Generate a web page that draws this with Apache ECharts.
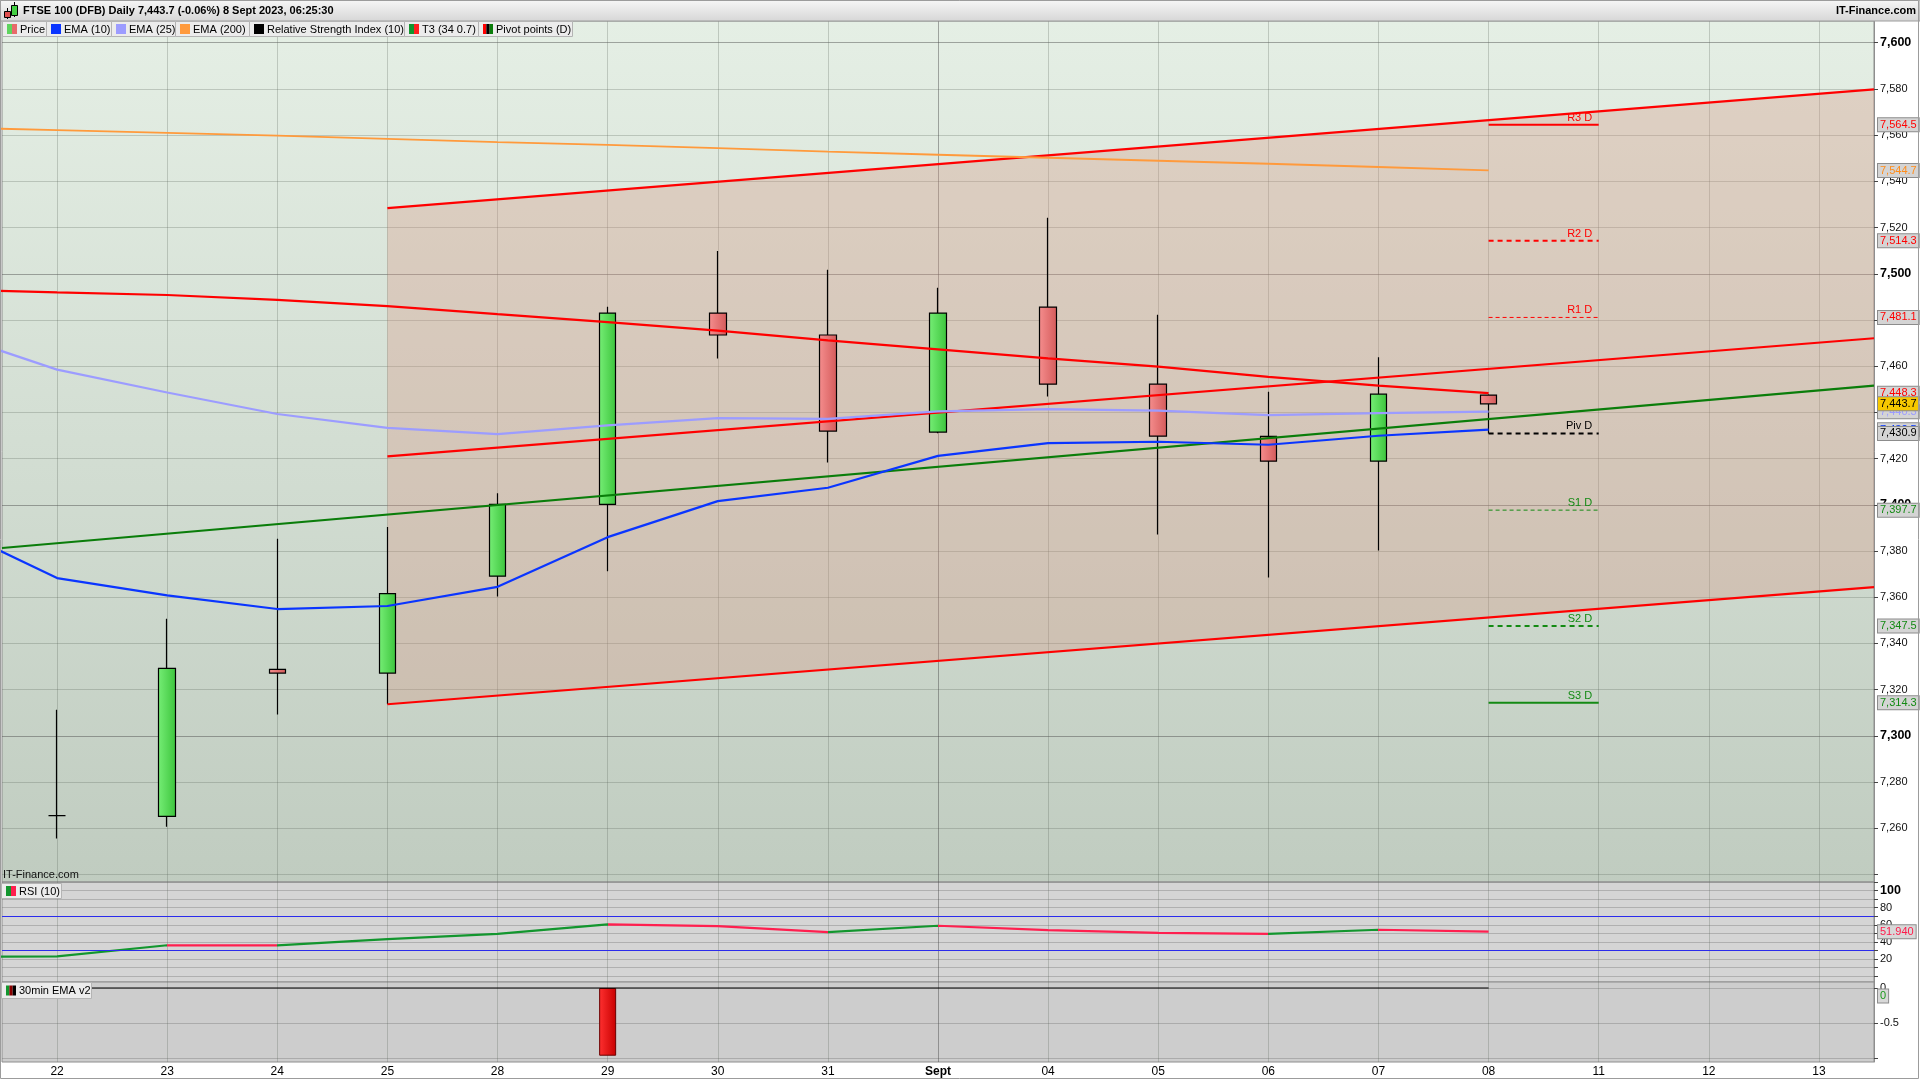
<!DOCTYPE html>
<html><head><meta charset="utf-8">
<script src="https://cdn.jsdelivr.net/npm/echarts@6/dist/echarts.min.js"></script>
<style>html,body{margin:0;padding:0;background:#fff}#c{width:1920px;height:1080px}</style>
</head><body><div id="c"></div>
<script>
// ---------- DATA ----------
const dayLabels = ['22','23','24','25','28','29','30','31','Sept','04','05','06','07','08','11','12','13'];
const openP  = [7265.5,7265.2,7328.8,7327.2,7369.1,7400.2,7483.0,7473.5,7431.5,7485.6,7452.2,7429.6,7418.9,7447.5];
const closeP = [7265.5,7329.2,7327.2,7361.6,7400.2,7483.0,7473.5,7431.9,7483.0,7452.2,7429.7,7418.9,7447.9,7443.7];
const lowP   = [7255.6,7260.7,7309.2,7313.7,7360.3,7371.2,7463.3,7418.3,7431.0,7446.9,7387.1,7368.5,7380.2,7430.9];
const highP  = [7311.3,7350.7,7385.3,7390.4,7405.0,7485.7,7509.9,7501.7,7493.9,7524.2,7482.3,7448.9,7463.9,7447.8];
// indicator arrays: first value = session before the first visible day (off-chart, clipped)
const ema10  = [7391.1,7368.3,7360.8,7354.9,7356.2,7364.5,7386.0,7401.6,7407.4,7421.2,7426.7,7427.3,7426.0,7429.9,7432.5];
const ema25  = [7474.5,7458.5,7448.6,7439.3,7433.3,7430.6,7434.4,7437.5,7437.2,7440.4,7441.4,7440.8,7438.8,7439.7,7440.3];
const ema200 = [7563.3,7562.2,7561.0,7559.8,7558.4,7557.0,7555.8,7554.4,7552.9,7551.5,7550.2,7548.9,7547.6,7546.2,7544.7];
const t3     = [7493.3,7491.9,7490.8,7488.7,7486.0,7482.5,7479.1,7475.4,7471.2,7467.3,7463.4,7459.8,7455.4,7451.6,7448.3];
const rsi10  = [22.6,22.9,36.0,35.8,43.1,49.4,60.5,58.5,51.4,58.9,53.8,50.6,49.4,54.2,51.94];
const rsiBands = [70, 30];
const ema30Bars = [0,0,0,0,0,-0.97,0,0,0,0,0,0,0,0];
const ema30Line = [0,0,0,0,0,0,0,0,0,0,0,0,0,0,0];
// drawn lines: value at start / value at right edge
const channelStartDay = '25';
const chanTop = [7528.4, 7579.8];
const chanMid = [7421.0, 7472.1];
const chanLow = [7313.7, 7364.4];
const trendGreen = [7381.3, 7451.6];
// daily pivots (drawn on last day)
const pivotNames  = ['R3 D','R2 D','R1 D','Piv D','S1 D','S2 D','S3 D'];
const pivotValues = [7564.5,7514.3,7481.1,7430.9,7397.7,7347.5,7314.3];
const titleText = 'FTSE 100 (DFB) Daily 7,443.7 (-0.06%) 8 Sept 2023, 06:25:30';

// ---------- LAYOUT / STYLE ----------
const FONT = '"Liberation Sans", Arial, Helvetica, sans-serif';
const X_MIN = -0.5, X_MAX = dayLabels.length - 0.5;
const Y_MIN = 7236.76, Y_MAX = 7609.39;
const G = echarts.graphic;
const lastDayIdx = closeP.length - 1;
const startIdx = dayLabels.indexOf(channelStartDay);
const fmt1 = v => v.toLocaleString('en-US',{minimumFractionDigits:1,maximumFractionDigits:1});
const ind = arr => arr.map((v,i)=>[i-1, v]);
const lastOf = a => a[a.length-1];

const greenFill = new G.LinearGradient(0,0,1,0,[{offset:0,color:'#76ee76'},{offset:1,color:'#3cc43c'}]);
const redFill = new G.LinearGradient(0,0,1,0,[{offset:0,color:'#f58e8e'},{offset:1,color:'#d45a5a'}]);

function tag(v, text, color, bg, extraLabel){
  return {yAxis: v, lineStyle:{width:0, color:'rgba(0,0,0,0)'},
    label:Object.assign({show:true, position:'end', distance:4, formatter:text, color:color,
      backgroundColor:bg||'#d4d4d4', borderColor:'#8c8c8c', borderWidth:1,
      padding:[1,2,0,2], lineHeight:12, fontSize:11, fontFamily:FONT}, extraLabel||{})};
}

const hiddenVal = (grid) => ({type:'value', gridIndex:grid, min:X_MIN, max:X_MAX,
  minInterval:1, maxInterval:1,
  axisLine:{show:false, onZero:false}, axisTick:{show:false}, axisLabel:{show:false},
  splitLine:{show:true, showMinLine:false, showMaxLine:false,
    lineStyle:{color:dayLabels.map(d=> d==='Sept' ? 'rgba(70,70,70,0.45)' : 'rgba(90,100,90,0.28)'), width:1}}});

const lineS = (name, data, color, width, extra) => Object.assign({
  name, type:'line', xAxisIndex:1, yAxisIndex:0, data, showSymbol:false, symbol:'none',
  lineStyle:{color, width}, itemStyle:{color}, silent:true, z:3}, extra||{});

// ---------- SERIES ----------
const series = [];
// channel shading (polygon through the axis scales)
series.push({name:'channel', type:'custom', xAxisIndex:1, yAxisIndex:0, z:1, silent:true, clip:true,
  data:[[startIdx, chanLow[0], chanTop[0], X_MAX, chanLow[1], chanTop[1]]],
  encode:{x:[0,3], y:[1,2,4,5]},
  renderItem:(params, api)=>{
    const a = api.coord([api.value(0), api.value(2)]);
    const b = api.coord([api.value(3), api.value(5)]);
    const c = api.coord([api.value(3), api.value(4)]);
    const d = api.coord([api.value(0), api.value(1)]);
    return {type:'polygon', shape:{points:[a,b,c,d]}, style:{fill:'rgba(214,150,132,0.32)'}};
  }});
series.push({name:'Price', type:'candlestick', xAxisIndex:0, yAxisIndex:0, barWidth:17, z:2,
  data: openP.map((o,i)=>[o, closeP[i], lowP[i], highP[i]]),
  itemStyle:{color:greenFill, color0:redFill, borderColor:'#000', borderColor0:'#000', borderColorDoji:'#000', borderWidth:1.2}});
series.push(lineS('chTop', [[startIdx, chanTop[0]],[X_MAX, chanTop[1]]], '#ff0000', 2.2));
series.push(lineS('chMid', [[startIdx, chanMid[0]],[X_MAX, chanMid[1]]], '#ff0000', 2.2));
series.push(lineS('chLow', [[startIdx, chanLow[0]],[X_MAX, chanLow[1]]], '#ff0000', 2.2));
series.push(lineS('trend', [[X_MIN, trendGreen[0]],[X_MAX, trendGreen[1]]], '#0a7d0a', 2.2));
series.push(lineS('EMA (200)', ind(ema200), '#ff9a3c', 1.8, {markLine:{silent:true, symbol:'none', animation:false, data:[
  tag(lastOf(ema200), fmt1(lastOf(ema200)), '#ff8c1a'),
  tag(pivotValues[0], fmt1(pivotValues[0]), '#ff0000'),
  tag(pivotValues[1], fmt1(pivotValues[1]), '#ff0000'),
  tag(pivotValues[2], fmt1(pivotValues[2]), '#ff0000'),
  tag(lastOf(t3), fmt1(lastOf(t3)), '#ff0000'),
  tag(lastOf(ema25), fmt1(lastOf(ema25)), '#9c9cff'),
  tag(lastOf(ema10), fmt1(lastOf(ema10)), '#0033ff'),
  tag(pivotValues[4], fmt1(pivotValues[4]), '#138a13'),
  tag(pivotValues[5], fmt1(pivotValues[5]), '#138a13'),
  tag(pivotValues[6], fmt1(pivotValues[6]), '#138a13'),
  tag(pivotValues[3], fmt1(pivotValues[3]), '#000000'),
  tag(closeP[lastDayIdx], fmt1(closeP[lastDayIdx]), '#000000', '#f6c800')
]}}));
series.push(lineS('EMA (25)', ind(ema25), '#9c9cff', 2.2));
series.push(lineS('EMA (10)', ind(ema10), '#0a35ff', 2.2));
series.push(lineS('T3', ind(t3), '#ff0000', 2.2));

const pivotStyle = [
  {c:'#ff0000', w:2, t:'solid'}, {c:'#ff0000', w:2, t:[5,4]}, {c:'#ff0000', w:1, t:[4,3]},
  {c:'#000000', w:2, t:[5,4]}, {c:'#138a13', w:1, t:[4,3]}, {c:'#138a13', w:2, t:[5,4]}, {c:'#138a13', w:2, t:'solid'}];
pivotValues.forEach((v,k)=>{
  const st = pivotStyle[k];
  series.push({name:'piv'+k, type:'line', xAxisIndex:1, yAxisIndex:0, silent:true, z:3,
    symbol:'circle', symbolSize:1, showSymbol:true, itemStyle:{color:'rgba(0,0,0,0)'},
    lineStyle:{color:st.c, width:st.w, type:st.t},
    data:[[lastDayIdx, v], {value:[lastDayIdx+1, v], label:{show:true, position:'left', distance:6, offset:[0,-7],
      formatter:pivotNames[k], color:st.c, fontSize:11, fontFamily:FONT}}]});
});

const rsiIdx = series.length;
series.push({name:'RSI', type:'line', xAxisIndex:2, yAxisIndex:1, data:ind(rsi10), showSymbol:false, symbol:'none',
  lineStyle:{width:2.2}, silent:true, z:3,
  markLine:{silent:true, symbol:'none', animation:false, data:[
    {yAxis:rsiBands[0], lineStyle:{color:'#2b2bec', width:1, type:'solid'}, label:{show:false}},
    {yAxis:rsiBands[1], lineStyle:{color:'#2b2bec', width:1, type:'solid'}, label:{show:false}},
    tag(lastOf(rsi10), lastOf(rsi10).toFixed(3), '#ff1a4a', '#d8d8d8')]}});
series.push({name:'30min EMA v2', type:'bar', xAxisIndex:3, yAxisIndex:2, barWidth:17, silent:true,
  data: ema30Bars.map(v=> v===0 ? null : v),
  itemStyle:{color:new G.LinearGradient(0,0,1,0,[{offset:0,color:'#ff3030'},{offset:1,color:'#c80000'}]), borderColor:'#6a0000', borderWidth:1}});
series.push({name:'ema30line', type:'line', xAxisIndex:4, yAxisIndex:2, data:ind(ema30Line), showSymbol:false, symbol:'none',
  lineStyle:{color:'#000', width:1.2}, silent:true, z:3,
  markLine:{silent:true, symbol:'none', animation:false, data:[tag(0, '0', '#1a9a1a', '#d8d8d8', {offset:[0,8]})]}});

// rsi colouring: rising green, falling red
const rsiPieces = [];
for (let i=0;i<rsi10.length-1;i++){
  rsiPieces.push({gt:i-1, lte:i, color: rsi10[i+1] >= rsi10[i] ? '#12962e' : '#ff1f4f'});
}

// ---------- GRAPHICS (title, legend chips) ----------
const gfx = [];
gfx.push({type:'rect', z:50, shape:{x:0,y:0,width:1920,height:21},
  style:{fill:new G.LinearGradient(0,0,0,1,[{offset:0,color:'#f7f7f7'},{offset:1,color:'#d6d6d6'}]), stroke:'#9c9c9c', lineWidth:1}});
gfx.push({type:'line', z:51, shape:{x1:7.5,y1:8,x2:7.5,y2:19}, style:{stroke:'#000',lineWidth:1}});
gfx.push({type:'rect', z:52, shape:{x:4.5,y:11.5,width:6,height:6}, style:{fill:'#e05050', stroke:'#000', lineWidth:1}});
gfx.push({type:'line', z:51, shape:{x1:14.5,y1:2,x2:14.5,y2:17}, style:{stroke:'#000',lineWidth:1}});
gfx.push({type:'rect', z:52, shape:{x:11.5,y:5.5,width:6,height:10}, style:{fill:'#44d044', stroke:'#000', lineWidth:1}});
gfx.push({type:'text', z:52, x:23, y:11, style:{text:titleText, font:'bold 11px '+FONT, fill:'#000', verticalAlign:'middle'}});
gfx.push({type:'text', z:52, x:1916, y:11, style:{text:'IT-Finance.com', font:'bold 11px '+FONT, fill:'#000', align:'right', verticalAlign:'middle'}});

function legendBox(x, w, y, h, label, colors){
  gfx.push({type:'rect', z:60, shape:{x:x+0.5,y:y+0.5,width:w,height:h}, style:{fill:'#ececec', stroke:'#b4b4b4', lineWidth:1}});
  const iw = 10, sw = iw/colors.length;
  colors.forEach((c,k)=> gfx.push({type:'rect', z:61, shape:{x:x+5+k*sw, y:y+(h-10)/2+0.5, width:sw, height:10}, style:{fill:c}}));
  gfx.push({type:'text', z:61, x:x+18, y:y+h/2+1, style:{text:label, font:'11px '+FONT, fill:'#000', verticalAlign:'middle'}});
}
legendBox(2, 44, 21, 15, 'Price', ['#5fd45f','#e86a6a']);
legendBox(46, 65, 21, 15, 'EMA (10)', ['#0a35ff']);
legendBox(111, 64, 21, 15, 'EMA (25)', ['#9c9cff']);
legendBox(175, 74, 21, 15, 'EMA (200)', ['#ff9a3c']);
legendBox(249, 155, 21, 15, 'Relative Strength Index (10)', ['#000000']);
legendBox(404, 74, 21, 15, 'T3 (34 0.7)', ['#12962e','#ff1f1f']);
legendBox(478, 94, 21, 15, 'Pivot points (D)', ['#ff0000','#000000','#0a7d0a']);
legendBox(1, 60, 883, 15, 'RSI (10)', ['#12962e','#ff1f4f']);
legendBox(1, 90, 982, 16, '30min EMA v2', ['#12962e','#8a0000','#000000']);
gfx.push({type:'text', z:61, x:3, y:875, style:{text:'IT-Finance.com', font:'11px '+FONT, fill:'#111', verticalAlign:'middle'}});
gfx.push({type:'rect', z:70, shape:{x:0.5,y:0.5,width:1918,height:1078}, style:{fill:'none', stroke:'#9c9c9c', lineWidth:1}});

const yCommon = {position:'right',
  axisLine:{show:true, onZero:false, lineStyle:{color:'#8e8e8e'}}, axisTick:{show:true, length:4, lineStyle:{color:'#444'}}};

const option = {
  animation:false,
  backgroundColor:'#ffffff',
  textStyle:{fontFamily:FONT},
  grid:[
    {left:2, right:46, top:21, height:861, show:true, borderColor:'#8e8e8e', borderWidth:1,
      backgroundColor:new G.LinearGradient(0,0,0,1,[{offset:0,color:'#e5efe5'},{offset:1,color:'#c0ccc0'}])},
    {left:2, right:46, top:882, height:100, show:true, borderColor:'#8e8e8e', borderWidth:1, backgroundColor:'#d5d5d5'},
    {left:2, right:46, top:982, height:80, show:true, borderColor:'#8e8e8e', borderWidth:1, backgroundColor:'#cdcdcd'}
  ],
  xAxis:[
    {type:'category', gridIndex:0, data:dayLabels, boundaryGap:true, show:false, axisLine:{onZero:false}},
    hiddenVal(0),
    hiddenVal(1),
    {type:'category', gridIndex:2, data:dayLabels, boundaryGap:true, position:'bottom',
      axisLine:{show:false, onZero:false}, axisTick:{show:false}, splitLine:{show:false},
      axisLabel:{show:true, interval:0, margin:4, fontSize:12, color:'#000', fontFamily:FONT,
        formatter: v => v==='Sept' ? '{b|Sept}' : v, rich:{b:{fontWeight:'bold', fontSize:12, color:'#000', fontFamily:FONT}}}},
    hiddenVal(2)
  ],
  yAxis:[
    Object.assign({type:'value', gridIndex:0, min:Y_MIN, max:Y_MAX, minInterval:20, maxInterval:20,
      splitLine:{show:true, showMinLine:false, showMaxLine:false,
        lineStyle:{color:['rgba(90,100,90,0.28)','rgba(90,100,90,0.28)','rgba(90,100,90,0.28)','rgba(70,70,70,0.45)','rgba(90,100,90,0.28)'], width:1}},
      axisLabel:{show:true, margin:6, showMinLabel:false, showMaxLabel:false, fontSize:11, color:'#111', fontFamily:FONT,
        formatter: v => { if (Math.abs(v/20 - Math.round(v/20))>1e-6 || v - Y_MIN < 6) return '';
          const s = v.toLocaleString('en-US'); return Math.round(v)%100===0 ? '{b|'+s+'}' : s; },
        rich:{b:{fontWeight:'bold', fontSize:12.5, color:'#000', fontFamily:FONT}}}}, yCommon),
    Object.assign({type:'value', gridIndex:1, min:-7.1, max:110.2, minInterval:10, maxInterval:10,
      splitLine:{show:true, showMinLine:false, showMaxLine:false, lineStyle:{color:'rgba(110,110,110,0.35)'}},
      axisLabel:{show:true, margin:6, showMinLabel:false, showMaxLabel:false, fontSize:11, color:'#111', fontFamily:FONT,
        formatter: v => { if (v<20 || v>100 || Math.round(v)%20!==0) return ''; return v===100 ? '{b|100}' : String(v); },
        rich:{b:{fontWeight:'bold', fontSize:12.5, color:'#000', fontFamily:FONT}}}}, yCommon),
    Object.assign({type:'value', gridIndex:2, min:-1.06, max:0.086, minInterval:0.5, maxInterval:0.5,
      splitLine:{show:true, showMinLine:false, showMaxLine:false, lineStyle:{color:'rgba(110,110,110,0.35)'}},
      axisLabel:{show:true, margin:6, showMinLabel:false, showMaxLabel:false, fontSize:11, color:'#111', fontFamily:FONT,
        formatter: v => (v===0 ? '0' : (Math.abs(v+0.5)<1e-9 ? '-0.5' : ''))}}, yCommon)
  ],
  visualMap:[{type:'piecewise', show:false, seriesIndex:rsiIdx, dimension:0, pieces:rsiPieces, outOfRange:{color:'#12962e'}}],
  series,
  graphic:{elements:gfx}
};
const chart = echarts.init(document.getElementById('c'));
chart.setOption(option);
</script></body></html>
